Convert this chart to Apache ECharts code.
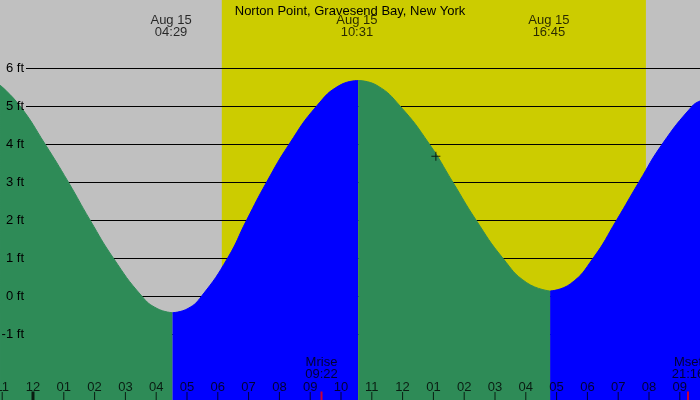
<!DOCTYPE html>
<html>
<head>
<meta charset="utf-8">
<script src="https://cdn.jsdelivr.net/npm/echarts@6/dist/echarts.min.js"></script>
<style>html,body{margin:0;padding:0;background:#c0c0c0}#c{width:700px;height:400px}</style>
</head>
<body>
<div id="c"></div>
<script>
// ---- data ----
const titleText = "Norton Point, Gravesend Bay, New York";
const dateLabel = "Aug 15";
// tide curve samples (hours from local midnight, feet)
const tideHours = [-1.071, -0.422, 0.390, 1.146, 1.851, 2.607, 3.529, 4.03, 4.53, 5.03, 5.477, 6.321, 6.938, 7.588, 8.321, 9.211, 9.97, 10.56, 11.17, 11.916, 12.867, 13.627, 14.383, 15.250, 16.03, 16.79, 17.45, 18.19, 18.951, 19.675, 20.432, 21.406, 21.656];
const tideFeet  = [5.55, 5.0, 4.0, 3.0, 2.0, 1.0, 0.0, -0.33, -0.44, -0.33, 0.0, 1.0, 2.0, 3.0, 4.0, 5.0, 5.55, 5.67, 5.54, 5.0, 4.0, 3.0, 2.0, 1.0, 0.35, 0.13, 0.32, 1.0, 2.0, 3.0, 4.0, 5.0, 5.13];
// indices of extremes splitting falling (green) / rising (blue) segments
const extremeIdx = [8, 17, 25];
const eventTimes = [4.483, 10.517, 16.75];
const eventLabels = ["04:29", "10:31", "16:45"];
const sunrise = 6.13, sunset = 19.9;
const moonTimes = [9.367, 21.267];
const moonNames = ["Mrise", "Mset"];
const moonLabels = ["09:22", "21:16"];
const nowPoint = [13.08, 3.68];
const ftLevels = [-1, 0, 1, 2, 3, 4, 5, 6];
const ftLabels = ["-1 ft", "0 ft", "1 ft", "2 ft", "3 ft", "4 ft", "5 ft", "6 ft"];
const hourTicks = [-1,0,1,2,3,4,5,6,7,8,9,10,11,12,13,14,15,16,17,18,19,20,21];
const hourLabels = ["11","12","01","02","03","04","05","06","07","08","09","10","11","12","01","02","03","04","05","06","07","08","09"];

// ---- axis ranges ----
const xMin = -1.0714, xMax = 21.656;
const yMin = -2.737, yMax = 7.789;
const gridStart = -0.227;

const FONT = "Liberation Sans";
const GREEN = "#2e8b57", BLUE = "#0000ff";

const pts = tideHours.map((h, i) => [h, tideFeet[i]]);
const bounds = [0, ...extremeIdx, pts.length - 1];
const segSeries = [];
for (let s = 0; s < bounds.length - 1; s++) {
  const col = s % 2 === 0 ? GREEN : BLUE;
  segSeries.push({
    type: 'line', z: 3, smooth: 0.5, showSymbol: false, silent: true,
    data: pts.slice(bounds[s], bounds[s + 1] + 1),
    lineStyle: { color: col, width: 1 },
    areaStyle: { color: col, opacity: 1, origin: 'start' }
  });
}

const levelLines = ftLevels.map((v, i) => [{ coord: [gridStart, v], name: ftLabels[i] }, { coord: [xMax, v] }]);

const chart = echarts.init(document.getElementById('c'), null, { renderer: 'canvas' });
chart.setOption({
  animation: false,
  backgroundColor: '#c0c0c0',
  title: { text: titleText, left: 'center', top: 0, textStyle: { fontFamily: FONT, fontSize: 13, fontWeight: 'normal', color: '#000' } },
  grid: { left: 0, right: 0, top: 0, bottom: 0 },
  xAxis: { type: 'value', min: xMin, max: xMax, show: false },
  yAxis: { type: 'value', min: yMin, max: yMax, show: false },
  series: [
    { // daylight band + level lines
      type: 'line', z: 1, data: [], silent: true,
      markArea: { silent: true, z: 1, itemStyle: { color: '#cccc00', opacity: 1 }, data: [[{ xAxis: sunrise }, { xAxis: sunset }]] },
      markLine: { silent: true, z: 2, symbol: ['none', 'none'], label: { show: false }, lineStyle: { color: '#000', width: 1, type: 'solid' }, data: levelLines }
    },
    ...segSeries,
    { // level labels (above fills)
      type: 'line', z: 6, data: [], silent: true,
      markLine: {
        silent: true, z: 6, symbol: ['none', 'none'], lineStyle: { color: 'rgba(0,0,0,0)', width: 1, type: 'solid' },
        label: { show: true, position: 'start', distance: 2, color: '#000', fontFamily: FONT, fontSize: 13, formatter: '{b}' },
        data: levelLines
      }
    },
    { // hour ticks and labels
      type: 'scatter', z: 7, clip: false, silent: true,
      symbol: 'rect', itemStyle: { color: '#000' },
      data: hourTicks.map(h => ({ value: [h, yMin], symbolSize: (h % 24 === 0) ? [3, 17] : [1, 16] })),
      label: { show: true, position: 'inside', offset: [0, -13], color: '#000', fontFamily: FONT, fontSize: 13,
        formatter: p => hourLabels[p.dataIndex] }
    },
    { // tide event labels at top
      type: 'scatter', z: 7, clip: false, silent: true, symbolSize: 0,
      data: eventTimes.map(t => [t, yMax]),
      label: { show: true, position: 'inside', offset: [0, 26.5], color: '#000', fontFamily: FONT, fontSize: 13, lineHeight: 12,
        formatter: p => dateLabel + "\n" + eventLabels[p.dataIndex] }
    },
    { // moon ticks and labels
      type: 'scatter', z: 7, clip: false, silent: true,
      symbol: 'rect', symbolSize: [2, 17], itemStyle: { color: '#ff0000' },
      data: moonTimes.map(t => [t, yMin]),
      label: { show: true, position: 'inside', offset: [0, -31.5], color: '#000', fontFamily: FONT, fontSize: 13, lineHeight: 12,
        formatter: p => moonNames[p.dataIndex] + "\n" + moonLabels[p.dataIndex] }
    },
    { // current position marker
      type: 'scatter', z: 8, clip: false, silent: true,
      symbol: 'path://M4,0h1v4h4v1h-4v4h-1v-4h-4v-1h4z', symbolSize: [9, 9], itemStyle: { color: '#000' },
      data: [nowPoint]
    }
  ]
});
</script>
</body>
</html>
